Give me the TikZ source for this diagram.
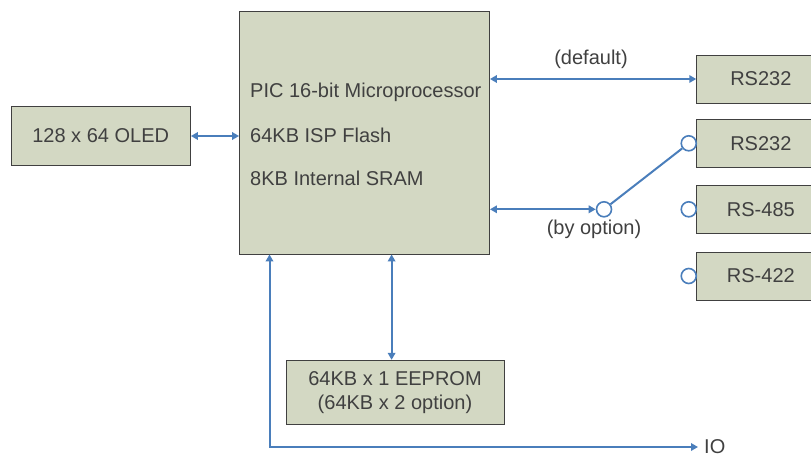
\documentclass[tikz,border=0pt]{standalone}
\usepackage{fontspec}
\setmainfont{Liberation Sans}
\usetikzlibrary{arrows.meta,calc}
\definecolor{boxfill}{HTML}{D3D8C3}
\definecolor{boxline}{HTML}{404040}
\definecolor{lnk}{HTML}{4A7EBB}
\definecolor{txt}{HTML}{404040}
\begin{document}
\begin{tikzpicture}[x=1pt,y=-1pt,
  blk/.style={draw=boxline, fill=boxfill, line width=0.9pt, inner sep=0pt,
    text=txt, font=\fontsize{20}{24}\selectfont, align=center},
  lnkline/.style={draw=lnk, line width=2pt},
  tip/.tip={Triangle[length=7pt,width=7.5pt]},
  biarrow/.style={lnkline, tip-tip},
  sw/.style={circle, draw=lnk, line width=1.6pt, fill=white, minimum size=15pt, inner sep=0pt},
  lbl/.style={text=txt, font=\fontsize{20}{24}\selectfont, inner sep=0pt}]
\useasboundingbox (0,0) rectangle (811,455);
\clip (0,0) rectangle (811,455);

% blocks
\node[blk, minimum width=250pt, minimum height=242.5pt] (main) at (364.5,132.75) {};
\node[blk, minimum width=179.5pt, minimum height=58.6pt] (oled) at (100.7,136) {128 x 64 OLED};
\node[blk, minimum width=128.3pt, minimum height=48pt] (rs1) at (760.85,79) {RS232};
\node[blk, minimum width=128.3pt, minimum height=48pt] (rs2) at (760.85,143.3) {RS232};
\node[blk, minimum width=128.3pt, minimum height=48pt] (rs3) at (760.85,209.3) {RS-485};
\node[blk, minimum width=128.3pt, minimum height=48pt] (rs4) at (760.85,276) {RS-422};
\node[blk, minimum width=218pt, minimum height=64pt] (eeprom) at (395,392.3) {64KB x 1 EEPROM\\(64KB x 2 option)};

% text inside the main block
\node[lbl, anchor=west] (t1) at (250,92) {PIC 16-bit Microprocessor};
\node[lbl, anchor=west] (t2) at (250,135.7) {64KB ISP Flash};
\node[lbl, anchor=west] (t3) at (250,178.3) {8KB Internal SRAM};

% switch contacts
\node[sw] (c1) at ($(rs2.west)+(-7.5,0)$) {};
\node[sw] (c2) at ($(rs3.west)+(-7.5,0)$) {};
\node[sw] (c3) at ($(rs4.west)+(-7.5,0)$) {};
\node[sw] (c0) at (604,209.3) {};

% labels
\node[lbl] (ldef) at (591,59) {(default)};
\node[lbl] (lopt) at (594,229.3) {(by option)};
\node[lbl, anchor=west] (io) at (704,447) {IO};

% connectors
\draw[biarrow] (oled.east) -- (main.west |- oled.east);
\draw[biarrow] (main.east |- rs1.west) -- (rs1.west);
\draw[biarrow] (main.east |- c0.west) -- (c0.west);
\draw[lnkline] (c0) -- (c1);
\coordinate (eex) at (391.6,360);
\draw[biarrow] (main.south -| eex) -- (eeprom.north -| eex);
\coordinate (iox) at (269.5,447);
\draw[biarrow] (main.south -| iox) -- (iox) -- ([xshift=-6pt]io.west);
\end{tikzpicture}
\end{document}
